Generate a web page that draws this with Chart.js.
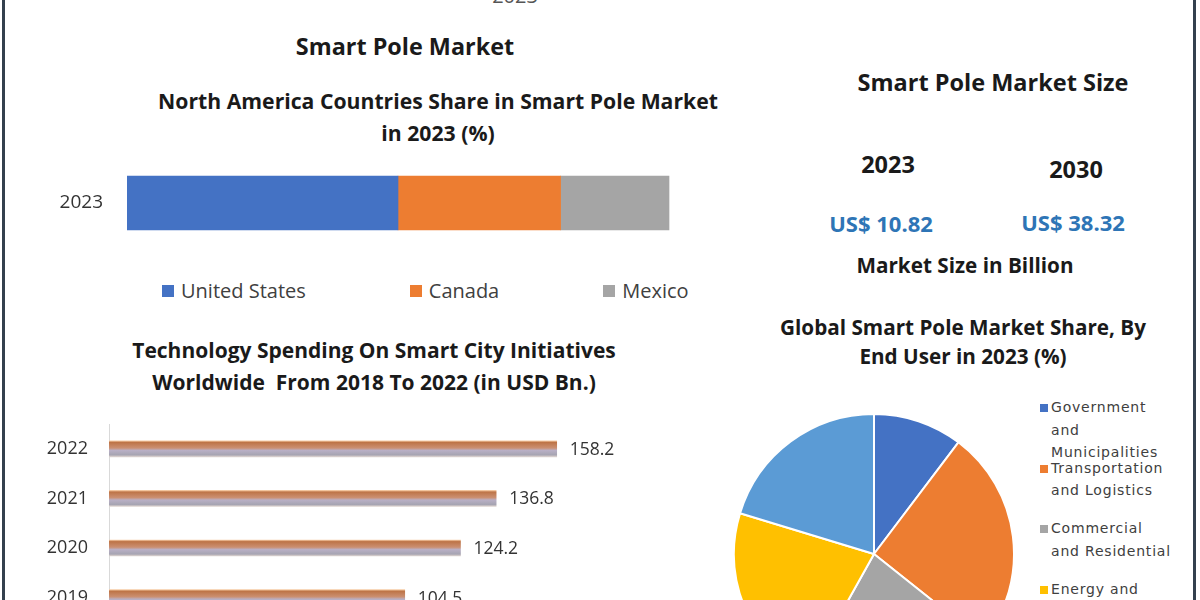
<!DOCTYPE html>
<html>
<head>
<meta charset="utf-8">
<script src="https://cdn.jsdelivr.net/npm/chart.js@4.4.1/dist/chart.umd.min.js"></script>
<style>
  html, body { margin:0; padding:0; width:1200px; height:600px; overflow:hidden; background:#fff; }
  body { position:relative; font-family:"Open Sans", sans-serif; }
  .t { position:absolute; transform:translate(-50%,-50%); white-space:nowrap; line-height:1; font-weight:700; color:#1a1a1a; }
  .frame { position:absolute; top:0; bottom:0; width:3px; background:#34404e; }
  canvas { position:absolute; }
  #shareLegend { position:absolute; left:162px; top:280px; display:flex; gap:104px; font-size:20px; color:#404040; line-height:22px; white-space:nowrap; }
  #shareLegend span { position:relative; padding-left:19px; }
  #shareLegend i { position:absolute; left:0; top:5px; width:12px; height:12px; }
  #pieLegend { position:absolute; left:1040px; top:0; font-family:"DejaVu Sans", sans-serif; font-size:14px; letter-spacing:0.8px; color:#404040; }
  .li { position:absolute; left:0; width:125px; line-height:22.5px; padding-left:11px; }
  .li i { position:absolute; left:0; top:8px; width:8px; height:8px; }
</style>
</head>
<body>
<div class="frame" style="left:2px"></div>
<div class="frame" style="left:1193px"></div>

<div class="t" style="left:515px;top:-4px;font-weight:400;color:#555;font-size:20px">2023</div>

<div class="t" style="left:405px;top:47px;font-size:23.4px">Smart Pole Market</div>
<div class="t" style="left:438px;top:101px;font-size:21.2px">North America Countries Share in Smart Pole Market</div>
<div class="t" style="left:438px;top:133px;font-size:21.2px">in 2023 (%)</div>

<div class="t" style="left:374px;top:350px;font-size:21px">Technology Spending On Smart City Initiatives</div>
<div class="t" style="left:374px;top:382px;font-size:21px">Worldwide&nbsp; From 2018 To 2022 (in USD Bn.)</div>

<div class="t" style="left:993px;top:83px;font-size:23.5px">Smart Pole Market Size</div>
<div class="t" id="y1" style="left:888px;top:165px;font-size:23.5px"></div>
<div class="t" id="y2" style="left:1076px;top:170px;font-size:23.5px"></div>
<div class="t" id="v1" style="left:881px;top:223px;font-size:22px;color:#2e75b6"></div>
<div class="t" id="v2" style="left:1073px;top:222px;font-size:22px;color:#2e75b6"></div>
<div class="t" style="left:965px;top:265px;font-size:20.7px">Market Size in Billion</div>
<div class="t" style="left:963px;top:327px;font-size:20.7px">Global Smart Pole Market Share, By</div>
<div class="t" style="left:963px;top:356px;font-size:20.7px">End User in 2023 (%)</div>

<canvas id="c1" width="720" height="106" style="left:0;top:150px;width:720px;height:106px"></canvas>
<div id="shareLegend"></div>
<canvas id="c2" width="700" height="258" style="left:0;top:414px;width:700px;height:258px"></canvas>
<canvas id="c3" width="282" height="282" style="left:733px;top:413px;width:282px;height:282px"></canvas>
<div id="pieLegend"></div>

<script>
// ---- Data ----
const shareYear = ['2023'];
const shareCountries = ['United States', 'Canada', 'Mexico'];
const shareValues = [50, 30, 20];
const shareColors = ['#4472c4', '#ed7d31', '#a5a5a5'];

const spendYears = ['2018', '2019', '2020', '2021', '2022'];
const spendValues = [81.0, 104.5, 124.2, 136.8, 158.2];

const sizeYears = ['2023', '2030'];
const sizeValues = ['US$ 10.82', 'US$ 38.32'];

const endUsers = ['Government and Municipalities', 'Transportation and Logistics', 'Commercial and Residential', 'Energy and Utilities', 'Others'];
const endUserShares = [10.3, 25.4, 22.4, 21.6, 20.3];
const endUserColors = ['#4472c4', '#ed7d31', '#a5a5a5', '#ffc000', '#5b9bd5'];

document.getElementById('y1').textContent = sizeYears[0];
document.getElementById('y2').textContent = sizeYears[1];
document.getElementById('v1').textContent = sizeValues[0];
document.getElementById('v2').textContent = sizeValues[1];

Chart.defaults.font.family = '"Open Sans", sans-serif';
Chart.defaults.color = '#333';
Chart.defaults.animation = false;

const fixY = (w) => (s) => { s.width = w; s.paddingTop = 0; s.paddingBottom = 0; };

// ---- Chart 1: stacked share bar ----
const c1W = 720, c1Left = 127, c1Right = 669;
new Chart(document.getElementById('c1'), {
  type: 'bar',
  data: {
    labels: shareYear,
    datasets: shareCountries.map((n, i) => ({
      label: n, data: [shareValues[i]], backgroundColor: shareColors[i], barThickness: 54, borderWidth: 0
    }))
  },
  options: {
    indexAxis: 'y', responsive: false,
    layout: { padding: 0 },
    scales: {
      x: { stacked: true, display: false, min: 0, max: 100 * (c1W - c1Left) / (c1Right - c1Left) },
      y: { stacked: true, grid: { display: false, drawTicks: false }, border: { display: false },
           ticks: { padding: 24, font: { size: 19 }, color: '#333' },
           afterFit: fixY(c1Left) }
    },
    plugins: { tooltip: { enabled: false }, legend: { display: false } }
  }
});
const sl = document.getElementById('shareLegend');
shareCountries.forEach((n, i) => {
  const s = document.createElement('span');
  s.innerHTML = '<i style="background:' + shareColors[i] + '"></i>' + n;
  sl.appendChild(s);
});

// ---- Chart 2: spending bars ----
const barGradient = (ctx) => {
  const chart = ctx.chart;
  const ys = chart.scales && chart.scales.y;
  if (!chart.chartArea || !ys || ctx.dataIndex === undefined) return '#c07a50';
  const cy = ys.getPixelForValue(ctx.dataIndex);
  if (!isFinite(cy)) return '#c07a50';
  const g = chart.ctx.createLinearGradient(0, cy - 8, 0, cy + 8);
  g.addColorStop(0, '#f6cba4');
  g.addColorStop(0.1, '#bd7447');
  g.addColorStop(0.45, '#cb9072');
  g.addColorStop(0.6, '#b9b0c6');
  g.addColorStop(0.88, '#a6a4b2');
  g.addColorStop(1, '#ddd3cf');
  return g;
};
const valueLabels = {
  id: 'valueLabels',
  afterDatasetsDraw(chart) {
    const ctx = chart.ctx;
    const meta = chart.getDatasetMeta(0);
    ctx.save();
    ctx.font = '17.5px "Open Sans", sans-serif';
    ctx.fillStyle = '#333';
    ctx.textBaseline = 'middle';
    ctx.textAlign = 'left';
    meta.data.forEach((b, i) => {
      ctx.fillText(spendValues[i].toFixed(1), b.x + 13, b.y + 1);
    });
    ctx.restore();
  }
};
new Chart(document.getElementById('c2'), {
  type: 'bar',
  data: { labels: spendYears, datasets: [{ data: spendValues, backgroundColor: barGradient, barThickness: 16, borderWidth: 0 }] },
  options: {
    indexAxis: 'y', responsive: false,
    layout: { padding: { top: 10, right: 25, bottom: 0, left: 0 } },
    scales: {
      x: { display: false, min: 0, max: 200 },
      y: { reverse: true, grid: { display: false, drawTicks: false }, border: { display: true, color: '#d9d9d9', width: 1 },
           ticks: { padding: 21, font: { size: 18 }, color: '#333' },
           afterFit: fixY(109) }
    },
    plugins: { legend: { display: false }, tooltip: { enabled: false } }
  },
  plugins: [valueLabels]
});

// ---- Chart 3: pie ----
new Chart(document.getElementById('c3'), {
  type: 'pie',
  data: { labels: endUsers, datasets: [{ data: endUserShares, backgroundColor: endUserColors, borderColor: '#fff', borderWidth: 2 }] },
  options: { responsive: false, plugins: { legend: { display: false }, tooltip: { enabled: false } } }
});

const lg = document.getElementById('pieLegend');
endUsers.forEach((n, i) => {
  const d = document.createElement('div');
  d.className = 'li';
  d.style.top = (396 + i * 60.5) + 'px';
  d.innerHTML = '<i style="background:' + endUserColors[i] + '"></i>' + n;
  lg.appendChild(d);
});
</script>
</body>
</html>
